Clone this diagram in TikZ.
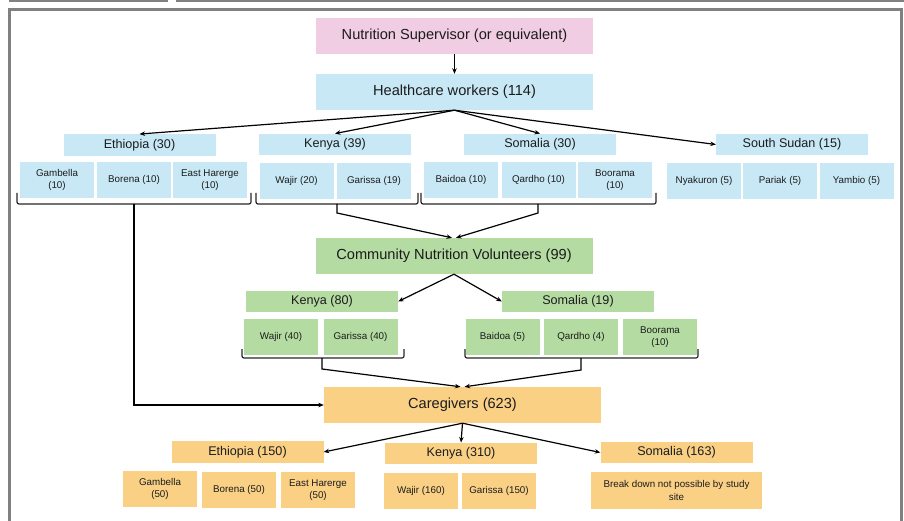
\documentclass[tikz,border=0pt]{standalone}
\usepackage{fontspec}
\setmainfont{Liberation Sans}
\usetikzlibrary{arrows.meta,calc}
\definecolor{pinkc}{RGB}{240,205,227}
\definecolor{bluec}{RGB}{200,232,246}
\definecolor{greenc}{RGB}{180,219,162}
\definecolor{orangec}{RGB}{250,208,133}
\definecolor{framec}{RGB}{128,128,128}
\definecolor{txtc}{RGB}{28,28,28}
\tikzset{
  bx/.style={rectangle, inner sep=0pt, align=center, text=txtc},
  mainbox/.style={bx, minimum width=277pt, minimum height=36pt, font=\fontsize{14.6}{16}\selectfont},
  ctrybox/.style={bx, minimum width=152pt, minimum height=21.5pt, font=\fontsize{12.6}{14}\selectfont},
  subbox/.style={bx, minimum width=74pt, minimum height=36pt, font=\fontsize{9.8}{12.5}\selectfont},
  arr/.style={draw=black, line width=1.2pt, -{Stealth[length=5.5pt,width=4.5pt]}},
  brk/.style={draw=black!85, line width=1.2pt, rounded corners=2pt},
}
\begin{document}
\begin{tikzpicture}[x=1pt,y=-1pt]
\useasboundingbox (0,0) rectangle (904,521);
% page frame
\draw[framec, line width=1.6pt] (9,0.8) -- (168,0.8);
\draw[framec, line width=1.6pt] (176,0.8) -- (904,0.8);
\draw[framec, line width=3pt] (9.5,521) -- (9.5,9.5) -- (901.5,9.5) -- (901.5,521);

% top level
\node[mainbox, fill=pinkc] (ns) at (454.5,36) {Nutrition Supervisor (or equivalent)};
\node[mainbox, fill=bluec] (hcw) at (454.5,92) {Healthcare workers (114)};

% healthcare workers by country
\node[ctrybox, fill=bluec] (hE) at (139.5,145) {Ethiopia (30)};
\node[ctrybox, fill=bluec] (hK) at (335,144.5) {Kenya (39)};
\node[ctrybox, fill=bluec] (hS) at (540,144.5) {Somalia (30)};
\node[ctrybox, fill=bluec] (hSS) at (792,144.5) {South Sudan (15)};

\node[subbox, fill=bluec] (hE1) at (57,180) {Gambella\\(10)};
\node[subbox, fill=bluec] (hE2) at (134,180) {Borena (10)};
\node[subbox, fill=bluec] (hE3) at (210,180) {East Harerge\\(10)};
\node[subbox, fill=bluec] (hK1) at (296.5,181) {Wajir (20)};
\node[subbox, fill=bluec] (hK2) at (374,181) {Garissa (19)};
\node[subbox, fill=bluec] (hS1) at (461,180) {Baidoa (10)};
\node[subbox, fill=bluec] (hS2) at (538.5,180) {Qardho (10)};
\node[subbox, fill=bluec] (hS3) at (615,180) {Boorama\\(10)};
\node[subbox, fill=bluec] (hSS1) at (704,181) {Nyakuron (5)};
\node[subbox, fill=bluec] (hSS2) at (780,181) {Pariak (5)};
\node[subbox, fill=bluec] (hSS3) at (856.5,181) {Yambio (5)};

% community nutrition volunteers
\node[mainbox, fill=greenc] (cnv) at (454,256) {Community Nutrition Volunteers (99)};
\node[ctrybox, fill=greenc] (cK) at (322,301.5) {Kenya (80)};
\node[ctrybox, fill=greenc] (cS) at (578,301.5) {Somalia (19)};
\node[subbox, fill=greenc] (cK1) at (281,337) {Wajir (40)};
\node[subbox, fill=greenc] (cK2) at (360.5,337) {Garissa (40)};
\node[subbox, fill=greenc] (cS1) at (502.5,337) {Baidoa (5)};
\node[subbox, fill=greenc] (cS2) at (581,337) {Qardho (4)};
\node[subbox, fill=greenc] (cS3) at (660,337) {Boorama\\(10)};

% caregivers
\node[mainbox, fill=orangec] (cg) at (462.5,405) {Caregivers (623)};
\node[ctrybox, fill=orangec] (gE) at (247.5,452) {Ethiopia (150)};
\node[ctrybox, fill=orangec] (gK) at (461,453.5) {Kenya (310)};
\node[ctrybox, fill=orangec] (gS) at (676.5,452.5) {Somalia (163)};
\node[subbox, fill=orangec] (gE1) at (160,489) {Gambella\\(50)};
\node[subbox, fill=orangec] (gE2) at (239,490) {Borena (50)};
\node[subbox, fill=orangec] (gE3) at (318,490) {East Harerge\\(50)};
\node[subbox, fill=orangec] (gK1) at (421,490.5) {Wajir (160)};
\node[subbox, fill=orangec] (gK2) at (499,490.5) {Garissa (150)};
\node[subbox, fill=orangec, minimum width=171pt, minimum height=37pt] (gS1) at (676.5,490.5) {Break down not possible by study\\site};

% brackets (healthcare workers)
\coordinate (bE) at (134,204);
\coordinate (bK) at (337,204);
\coordinate (bKs) at (337,213);
\coordinate (bS) at (538,204);
\coordinate (bSs) at (538,213);
\draw[brk] (17,193) -- (17,204) -- (251,204) -- (251,193);
\draw[brk] (256,193) -- (256,204) -- (418,204) -- (418,193);
\draw[brk] (421,193) -- (421,204) -- (656,204) -- (656,193);

% brackets (CNV)
\coordinate (dK) at (322,358);
\coordinate (dKs) at (322,369);
\coordinate (dS) at (581,358);
\coordinate (dSs) at (581,370);
\draw[brk] (242,349) -- (242,358) -- (404,358) -- (404,349);
\draw[brk] (465,349) -- (465,358) -- (698,358) -- (698,349);

% connectors
\draw[arr] (ns) -- (hcw);
\draw[arr] (hcw.south) -- (hE.north);
\draw[arr] (hcw.south) -- (hK.north);
\draw[arr] (hcw.south) -- (hS.north);
\draw[arr] (hcw.south) -- (hSS.west);

\draw[arr] (bE) |- (cg.west);
\draw[arr] (bK) -- (bKs) -- ($(cnv.north)+(-2,0)$);
\draw[arr] (bS) -- (bSs) -- ($(cnv.north)+(2,0)$);

\draw[arr] (cnv.south) -- (cK.east);
\draw[arr] (cnv.south) -- (cS.west);

\draw[arr] (dK) -- (dKs) -- ($(cg.north)+(-2,0)$);
\draw[arr] (dS) -- (dSs) -- ($(cg.north)+(2,0)$);

\draw[arr] (cg.south) -- (gE.east);
\draw[arr] (cg.south) -- (gK.north);
\draw[arr] (cg.south) -- (gS.west);
\end{tikzpicture}
\end{document}
